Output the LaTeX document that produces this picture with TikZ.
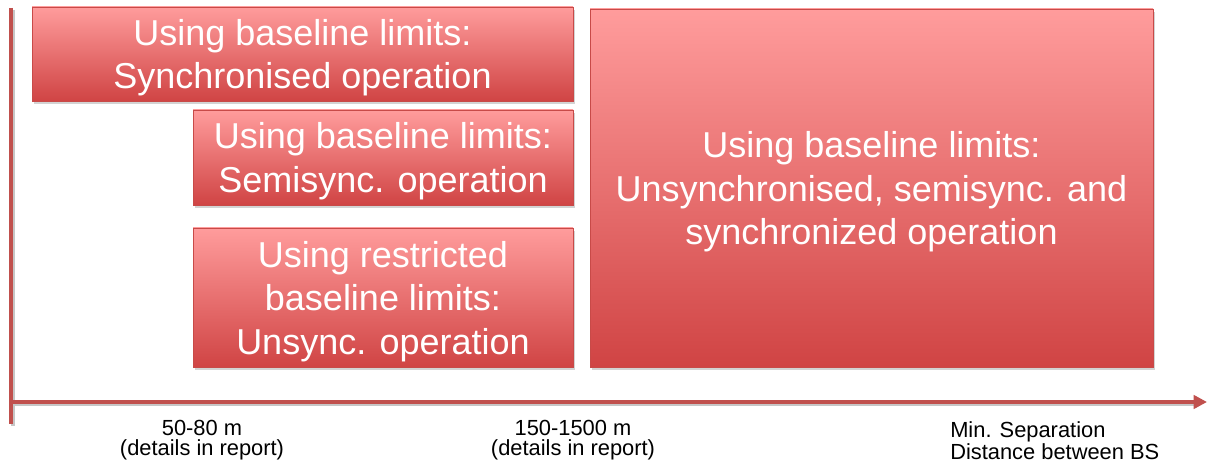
\documentclass[tikz,border=0pt]{standalone}
\usepackage{fontspec}
\setmainfont{Liberation Sans}
\usetikzlibrary{arrows.meta,shadows}

\definecolor{axisred}{HTML}{C0504D}
\definecolor{boxtop}{HTML}{FF9C9C}
\definecolor{boxbottom}{HTML}{D04444}
\definecolor{boxline}{HTML}{C84A48}

\tikzset{
  regionbox/.style={draw=boxline, line width=0.6pt, inner sep=0pt,
    top color=boxtop, bottom color=boxbottom, text=white, align=center,
    text depth=0pt, font=\fontsize{27}{32.6}\selectfont,
    drop shadow={shadow xshift=1.5pt, shadow yshift=-2.5pt, opacity=0.35}},
  distlabel/.style={align=center, font=\fontsize{16.4}{15}\selectfont, inner sep=0pt},
  axisline/.style={draw=axisred, line width=3pt}
}

\begin{document}
\begin{tikzpicture}[x=0.75pt,y=-0.75pt]
  % Keep the original 1210x466 frame.
  \useasboundingbox (0,0) rectangle (1210,466);

  % Axis corners.
  \coordinate (ytop) at (11,8);
  \coordinate (ybot) at (11,424);
  \coordinate (xorg) at (11,402);
  \coordinate (xend) at (1207,402);

  % Soft grey under the axes, then the axes themselves.
  \draw[gray!45, line width=3pt] ([xshift=1.5pt,yshift=-1.5pt]ytop) -- ([xshift=1.5pt,yshift=-1.5pt]ybot);
  \draw[gray!45, line width=3pt] ([xshift=1.5pt,yshift=-1.5pt]xorg) -- ([xshift=-6pt,yshift=-1.5pt]xend);
  \draw[axisline] (ytop) -- (ybot);
  \draw[axisline, -{Triangle[length=10pt,width=10pt]}] (xorg) -- (xend);

  % Regions of operation.
  \node[regionbox, minimum width=405.75pt, minimum height=70.5pt] (sync) at (302.5,54)
    {Using baseline limits:\\Synchronised operation};
  \node[regionbox, minimum width=285pt, minimum height=71.25pt] (semisync) at (383,157.5)
    {Using baseline limits:\\Semisync. operation};
  \node[regionbox, minimum width=285pt, minimum height=104.25pt] (unsync) at (383,297.5)
    {Using restricted\\baseline limits:\\Unsync. operation};
  \node[regionbox, minimum width=422.25pt, minimum height=268.5pt] (allops) at (871.5,188)
    {Using baseline limits:\\Unsynchronised, semisync. and\\synchronized operation};

  % Distances along the axis.
  \node[distlabel] (near) at (202,440) {50-80 m\\(details in report)};
  \node[distlabel] (far) at (573,440) {150-1500 m\\(details in report)};
  \node[distlabel, align=left, anchor=west] (minsep) at (950,441) {Min. Separation\\Distance between BS};
\end{tikzpicture}
\end{document}
